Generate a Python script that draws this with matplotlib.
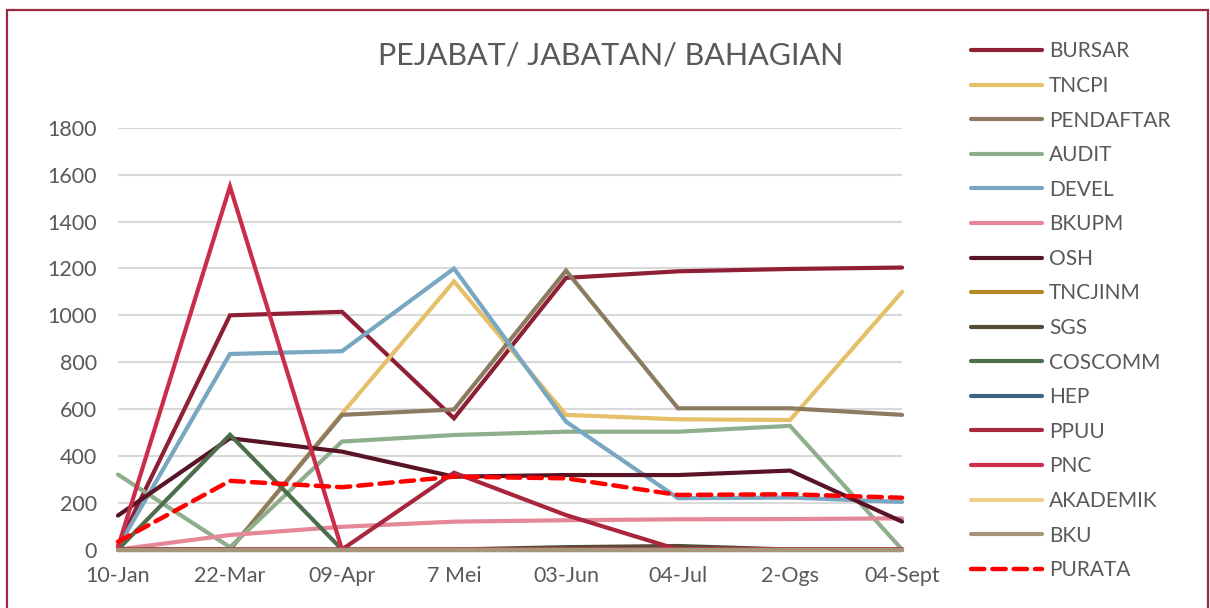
import numpy as np
import matplotlib
matplotlib.use('Agg')
import matplotlib.pyplot as plt
from matplotlib.patches import Rectangle

plt.rcParams['font.family'] = ['Lato', 'DejaVu Sans']

dates = ['10-Jan', '22-Mar', '09-Apr', '7 Mei', '03-Jun', '04-Jul', '2-Ogs', '04-Sept']

bursar    = [15, 1000, 1015, 560, 1160, 1188, 1198, 1204]
tncpi     = [0, 0, 580, 1145, 575, 556, 553, 1100]
pendaftar = [0, 0, 575, 598, 1191, 603, 603, 575]
audit     = [320, 10, 461, 489, 503, 503, 528, 0]
devel     = [10, 835, 847, 1200, 546, 219, 222, 203]
bkupm     = [0, 62, 97, 119, 125, 129, 130, 133]
osh       = [145, 475, 418, 311, 318, 318, 337, 119]
tncjinm   = [0, 0, 0, 0, 0, 0, 0, 0]
sgs       = [0, 0, 0, 0, 10, 15, 0, 0]
coscomm   = [0, 490, 0, 0, 0, 0, 0, 0]
hep       = [0, 0, 0, 0, 0, 0, 0, 0]
ppuu      = [0, 0, 0, 328, 147, 0, 0, 0]
pnc       = [10, 1550, 0, 0, 0, 0, 0, 0]
akademik  = [0, 0, 0, 0, 0, 0, 0, 0]
bku       = [0, 0, 0, 0, 0, 0, 0, 0]
purata    = [33, 293, 266, 311, 304, 233, 236, 221]

series = [
    ('BURSAR', bursar, '#8E1F34'),
    ('TNCPI', tncpi, '#E6C068'),
    ('PENDAFTAR', pendaftar, '#8C7B60'),
    ('AUDIT', audit, '#8EAE8C'),
    ('DEVEL', devel, '#78A7C2'),
    ('BKUPM', bkupm, '#E48797'),
    ('OSH', osh, '#581325'),
    ('TNCJINM', tncjinm, '#B38827'),
    ('SGS', sgs, '#574B38'),
    ('COSCOMM', coscomm, '#4D6E4D'),
    ('HEP', hep, '#3D6480'),
    ('PPUU', ppuu, '#A9263E'),
    ('PNC', pnc, '#CA2D4A'),
    ('AKADEMIK', akademik, '#EDD18C'),
    ('BKU', bku, '#A59579'),
]

sText = '#595959'

fig = plt.figure(figsize=(12.1, 6.08), dpi=100)
ax = fig.add_axes([0.0975, 0.0962, 0.648, 0.6933])

x = np.arange(len(dates))
for sName, aVal, sColor in series:
    ax.plot(x, aVal, color=sColor, lw=3, solid_capstyle='round',
            solid_joinstyle='miter', label=sName, clip_on=False)
ax.plot(x, purata, color='#FF0000', lw=3.2, ls=(0, (3, 1.8)),
        dash_capstyle='round', label='PURATA', clip_on=False)

ax.set_xlim(0, len(dates) - 1)
ax.set_ylim(0, 1800)
ax.set_yticks(np.arange(0, 1801, 200))
ax.set_xticks(x)
ax.set_xticklabels(dates)
ax.grid(axis='y', color='#D9D9D9', lw=1.5)
ax.set_axisbelow(True)
for s in ax.spines.values():
    s.set_visible(False)
ax.tick_params(axis='both', length=0, labelsize=15.5, colors=sText)
ax.tick_params(axis='y', pad=15)
ax.tick_params(axis='x', pad=12)

fig.text(0.505, 0.909, 'PEJABAT/ JABATAN/ BAHAGIAN', ha='center', va='center',
         fontsize=22, color=sText)

leg = ax.legend(loc='upper left', bbox_to_anchor=(0.8025, 0.932),
                bbox_transform=fig.transFigure, frameon=False, fontsize=15,
                handlelength=3.4, handletextpad=0.35, labelspacing=0.70,
                borderaxespad=0, borderpad=0)
for t in leg.get_texts():
    t.set_color(sText)

# outer frame of the chart
fig.patches.append(Rectangle((0.006, -0.05), 0.992, 1.034, transform=fig.transFigure,
                             fill=False, ec='#9C2840', lw=1.6))

plt.savefig('out.png', dpi=100)
plt.close('all')
